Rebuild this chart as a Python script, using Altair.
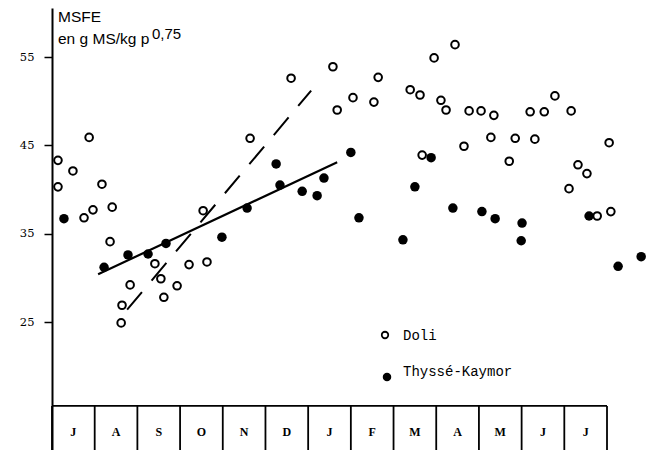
import altair as alt
import pandas as pd

# ---------------- data ----------------
months = ["J", "A", "S", "O", "N", "D", "J", "F", "M", "A", "M", "J", "J"]

# x = position in months from the start of July, y = MSFE (g MS/kg p^0.75)
doli_m = [0.14, 0.14, 0.49, 0.87, 0.75, 0.96, 1.17, 1.41, 1.36, 1.83, 1.64, 1.62,
          2.41, 2.55, 2.62, 2.93, 3.21, 3.63, 3.54, 4.64, 5.60, 6.58, 7.05, 6.68,
          7.54, 7.64, 8.39, 8.62, 8.95, 9.44, 9.11, 9.23, 9.77, 10.05, 10.35, 10.28,
          9.65, 8.67, 10.71, 10.85, 11.20, 11.53, 11.78, 11.31, 12.16, 13.05, 12.32,
          12.53, 12.11, 12.77, 13.09]
doli_v = [43.3, 40.3, 42.1, 45.9, 36.8, 37.7, 40.6, 38.0, 34.1, 29.2, 26.9, 24.9,
          31.6, 29.9, 27.8, 29.1, 31.5, 31.8, 37.6, 45.8, 52.6, 53.9, 50.4, 49.0,
          49.9, 52.7, 51.3, 50.7, 54.9, 56.4, 50.1, 49.0, 48.9, 48.9, 48.4, 45.9,
          44.9, 43.9, 43.2, 45.8, 48.8, 48.8, 50.6, 45.7, 48.9, 45.3, 42.8,
          41.8, 40.1, 37.0, 37.5]

thy_m = [0.28, 1.22, 1.78, 2.25, 2.67, 3.98, 4.57, 5.25, 5.34, 5.86, 6.21, 6.37,
         7.00, 7.19, 8.22, 8.50, 8.88, 9.39, 10.07, 10.38, 11.01, 10.99, 12.58,
         13.26, 13.80]
thy_v = [36.7, 31.2, 32.6, 32.7, 33.9, 34.6, 37.9, 42.9, 40.5, 39.8, 39.3, 41.3,
         44.2, 36.8, 34.3, 40.3, 43.6, 37.9, 37.5, 36.7, 36.2, 34.2, 37.0,
         31.3, 32.4]

# fitted lines (start / end)
thy_fit_m = [1.08, 6.68]
thy_fit_v = [30.4, 43.1]
doli_fit_m = [1.76, 6.07]
doli_fit_v = [26.4, 51.2]

y_ticks = [25, 35, 45, 55]
legend_labels = ["Doli", "Thyssé-Kaymor"]

# ---------------- scales / layout ----------------
X_DOM = [0, 13.89]
Y_DOM = [10.51, 60.55]
BOX_TOP = 15.5
LABEL_Y = 12.55

xs = alt.Scale(domain=X_DOM, nice=False, zero=False)
ys = alt.Scale(domain=Y_DOM, nice=False, zero=False)
yaxis = alt.Axis(values=y_ticks, title=None, grid=False, domainColor="black",
                 domainWidth=2, tickColor="black", tickWidth=1.5, tickSize=8,
                 labelFont="DejaVu Serif", labelFontSize=11.5, labelColor="black",
                 labelPadding=10)


def X(f):
    return alt.X(f, type="quantitative", scale=xs, axis=None)


def Y(f):
    return alt.Y(f, type="quantitative", scale=ys, axis=yaxis)


doli = pd.DataFrame({"m": doli_m, "v": doli_v})
thy = pd.DataFrame({"m": thy_m, "v": thy_v})
thy_fit = pd.DataFrame({"m": thy_fit_m, "v": thy_fit_v})
doli_fit = pd.DataFrame({"m": doli_fit_m, "v": doli_fit_v})

edges = pd.DataFrame({"m": list(range(len(months) + 1)),
                      "top": [BOX_TOP] * (len(months) + 1),
                      "bot": [Y_DOM[0]] * (len(months) + 1)})
topline = pd.DataFrame({"m0": [0], "m1": [len(months)], "v": [BOX_TOP]})
mlabels = pd.DataFrame({"m": [i + 0.5 for i in range(len(months))],
                        "v": [LABEL_Y] * len(months), "t": months})

l_doli = alt.Chart(doli).mark_point(shape="circle", filled=False, color="black",
                                    strokeWidth=2, size=58, opacity=1).encode(
    x=X("m"), y=Y("v"))
l_thy = alt.Chart(thy).mark_circle(color="black", size=90, opacity=1).encode(
    x=X("m"), y=Y("v"))
l_thy_fit = alt.Chart(thy_fit).mark_line(color="black", strokeWidth=2.2).encode(
    x=X("m"), y=Y("v"))
l_doli_fit = alt.Chart(doli_fit).mark_line(color="black", strokeWidth=2,
                                           strokeDash=[23, 15]).encode(
    x=X("m"), y=Y("v"))

l_edges = alt.Chart(edges).mark_rule(color="black", strokeWidth=1.8).encode(
    x=X("m"), y=Y("top"), y2=alt.Y2("bot"))
l_top = alt.Chart(topline).mark_rule(color="black", strokeWidth=1.8).encode(
    x=X("m0"), x2=alt.X2("m1"), y=Y("v"))
l_mlab = alt.Chart(mlabels).mark_text(font="Liberation Serif", fontSize=12,
                                      fontWeight="bold", color="black",
                                      baseline="middle").encode(
    x=X("m"), y=Y("v"), text="t:N")

# y-axis title (inside the plot, top-left)
t1 = alt.Chart(pd.DataFrame({"t": ["MSFE"]})).mark_text(
    font="Liberation Sans", fontSize=15.5, color="black", align="left",
    baseline="alphabetic").encode(x=alt.value(6), y=alt.value(14), text="t:N")
t2 = alt.Chart(pd.DataFrame({"t": ["en g MS/kg p"]})).mark_text(
    font="Liberation Sans", fontSize=15.5, color="black", align="left",
    baseline="alphabetic").encode(x=alt.value(6), y=alt.value(36), text="t:N")
t3 = alt.Chart(pd.DataFrame({"t": ["0,75"]})).mark_text(
    font="Liberation Sans", fontSize=15, color="black", align="left",
    baseline="alphabetic").encode(x=alt.value(100), y=alt.value(31), text="t:N")

# legend
leg_o = alt.Chart(pd.DataFrame({"t": [legend_labels[0]]})).mark_point(
    shape="circle", filled=False, color="black", strokeWidth=1.8, size=42,
    opacity=1).encode(x=alt.value(333), y=alt.value(327))
leg_f = alt.Chart(pd.DataFrame({"t": [legend_labels[1]]})).mark_circle(
    color="black", size=72, opacity=1).encode(x=alt.value(335), y=alt.value(369))
leg_t1 = alt.Chart(pd.DataFrame({"t": [legend_labels[0]]})).mark_text(
    font="Liberation Mono", fontSize=14, color="black", align="left",
    baseline="middle").encode(x=alt.value(351), y=alt.value(328), text="t:N")
leg_t2 = alt.Chart(pd.DataFrame({"t": [legend_labels[1]]})).mark_text(
    font="Liberation Mono", fontSize=14, color="black", align="left",
    baseline="middle").encode(x=alt.value(351), y=alt.value(364), text="t:N")

chart = alt.layer(
    l_edges, l_top, l_mlab, l_thy_fit, l_doli_fit, l_doli, l_thy,
    t1, t2, t3, leg_o, leg_f, leg_t1, leg_t2
).properties(
    width=593, height=442,
    autosize=alt.AutoSizeParams(type="none"),
    padding={"left": 44, "top": 0, "right": 1, "bottom": 0},
    background="white",
).configure_view(strokeWidth=0)

chart.save("out.html", embed_options={"renderer": "svg", "actions": False})
